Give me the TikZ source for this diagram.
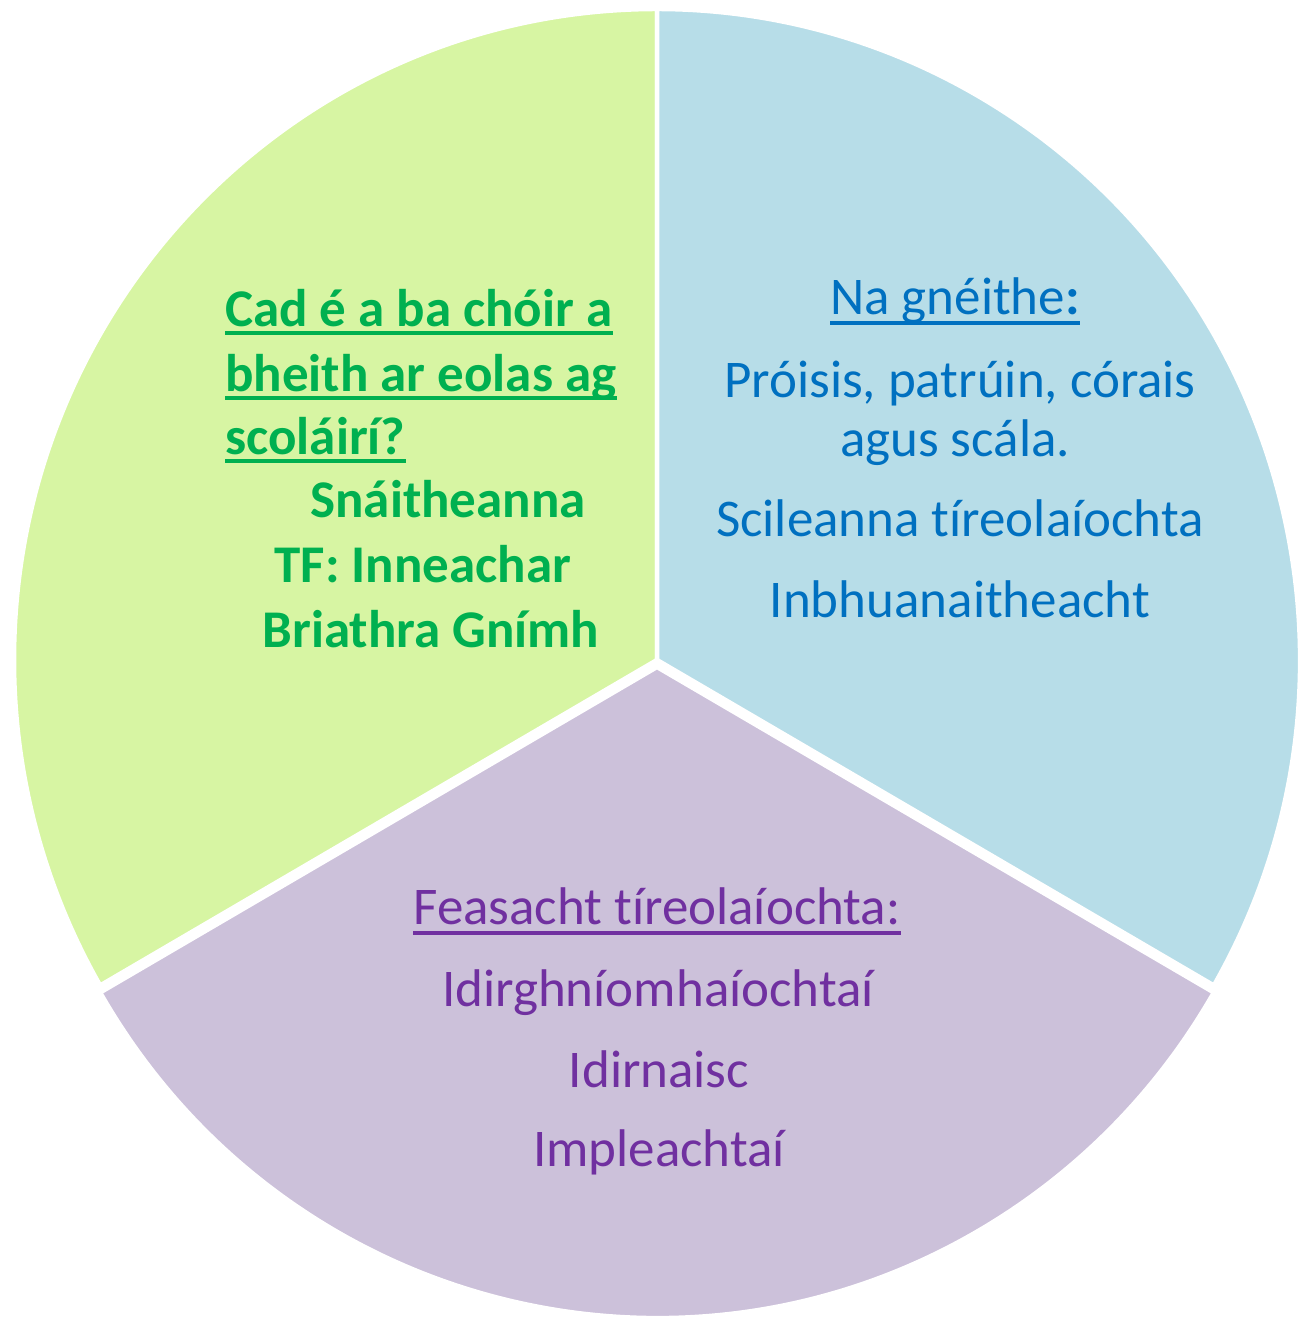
\documentclass[tikz,border=0pt]{standalone}
\usepackage{fontspec}
\setmainfont{Carlito}[Ligatures=NoCommon]
\usetikzlibrary{positioning, calc}
\definecolor{leafgreen}{HTML}{D7F5A3}
\definecolor{skyblue}{HTML}{B7DDE8}
\definecolor{lavender}{HTML}{CCC1DA}
\definecolor{greentxt}{HTML}{00B050}
\definecolor{bluetxt}{HTML}{0070C0}
\definecolor{purpletxt}{HTML}{7030A0}

\begin{document}
\begin{tikzpicture}[
        x=1pt, y=1pt,
        sector/.style={draw=white, line width=4.5pt, line join=miter},
        line/.style={inner sep=0pt, anchor=base, font=\fontsize{53}{64}\selectfont},
        lineleft/.style={line, anchor=base west},
        uline/.style={line width=3.5pt}
    ]
        \useasboundingbox (0,0) rectangle (1303,1319);

        % Sectors
        \coordinate (c) at (657, 659);
        \coordinate (cp) at (657, 652);
        \fill[leafgreen, sector] (c) -- ++(90:643 and 651) arc[start angle=90, end angle=210, x radius=643, y radius=651] -- cycle;
        \fill[skyblue, sector] (c) -- ++(-30:643 and 651) arc[start angle=-30, end angle=90, x radius=643, y radius=651] -- cycle;
        \fill[lavender, sector] (cp) -- ++(210:643 and 651) arc[start angle=210, end angle=330, x radius=643, y radius=651] -- cycle;

        % Green sector
        \node[lineleft, text=greentxt, font=\fontsize{53}{64}\bfseries] (g1) at (225, 992) {Cad é a ba chóir a};
        \node[lineleft, text=greentxt, font=\fontsize{53}{64}\bfseries] (g2) at (225, 927) {bheith ar eolas ag};
        \node[lineleft, text=greentxt, font=\fontsize{53}{64}\bfseries] (g3) at (225, 864) {scoláirí?};
        \node[line, text=greentxt, font=\fontsize{53}{64}\bfseries] (g4) at (448, 801) {Snáitheanna};
        \node[line, text=greentxt, font=\fontsize{53}{64}\bfseries] (g5) at (423, 736) {TF: Inneachar};
        \node[line, text=greentxt, font=\fontsize{53}{64}\bfseries] (g6) at (431, 671) {Briathra Gnímh};
        \draw[uline, greentxt] ([yshift=-6]g1.base west) -- ([yshift=-6]g1.base east);
        \draw[uline, greentxt] ([yshift=-6]g2.base west) -- ([yshift=-6]g2.base east);
        \draw[uline, greentxt] ([yshift=-6]g3.base west) -- ([yshift=-6]g3.base east);

        % Blue sector
        \node[line, text=bluetxt] (b1) at (955, 1004) {Na gnéithe\textbf{:}};
        \node[line, text=bluetxt] (b2) at (960, 921) {Próisis, patrúin, córais};
        \node[line, text=bluetxt] (b3) at (955, 862) {agus scála.};
        \node[line, text=bluetxt] (b4) at (960, 782) {Scileanna tíreolaíochta};
        \node[line, text=bluetxt] (b5) at (960, 701) {Inbhuanaitheacht};
        \draw[uline, bluetxt] ([yshift=-8]b1.base west) -- ([yshift=-8]b1.base east);

        % Purple sector
        \node[line, text=purpletxt] (p1) at (657, 394) {Feasacht tíreolaíochta:};
        \node[line, text=purpletxt] (p2) at (658, 312) {Idirghníomhaíochtaí};
        \node[line, text=purpletxt] (p3) at (659, 231) {Idirnaisc};
        \node[line, text=purpletxt] (p4) at (659, 152) {Impleachtaí};
        \draw[uline, purpletxt] ([yshift=-8]p1.base west) -- ([yshift=-8]p1.base east);
    \end{tikzpicture}
\end{document}
